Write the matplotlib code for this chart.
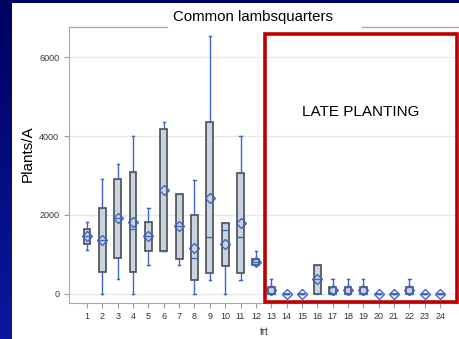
import matplotlib

matplotlib.use("Agg")
import matplotlib.pyplot as plt
import numpy as np
from matplotlib.patches import Rectangle

plt.rcParams["font.family"] = ["Liberation Sans", "DejaVu Sans"]

# box statistics per treatment (Plants/A)
trt = list(range(1, 25))
q1 = [1269, 541, 913, 541, 1091, 1091, 890, 356, 534, 712, 534, 720,
      0, 0, 0, 0, 0, 0, 0, 0, 0, 0, 0, 0]
med = [1455, 1362, 1911, 1641, 1455, 1091, 1720, 898, 1441, 1619, 1441, 814,
       0, 0, 0, 363, 0, 0, 0, 0, 0, 0, 0, 0]
q3 = [1641, 2173, 2901, 3078, 1818, 4169, 2534, 1992, 4356, 1805, 3076, 890,
      177, 0, 0, 717, 177, 177, 177, 0, 0, 177, 0, 0]
whislo = [1099, 0, 364, 0, 727, 1091, 720, 0, 356, 0, 356, 720,
          0, 0, 0, 0, 0, 0, 0, 0, 0, 0, 0, 0]
whishi = [1818, 2901, 3281, 4000, 2173, 4355, 2534, 2890, 6543, 1805, 3992, 1085,
          363, 0, 0, 717, 363, 363, 363, 0, 0, 363, 0, 0]
means = [1455, 1362, 1911, 1818, 1455, 2630, 1720, 1170, 2441, 1263, 1805, 814,
         91, 0, 0, 363, 91, 91, 91, 0, 0, 91, 0, 0]

yticks = [0, 2000, 4000, 6000]

W, H = 459, 339
fig = plt.figure(figsize=(W / 100, H / 100), dpi=100)

# navy gradient backdrop with the white slide panel
bg = fig.add_axes([0, 0, 1, 1])
grad = np.linspace(0, 1, 256).reshape(-1, 1)
cmap = matplotlib.colors.LinearSegmentedColormap.from_list("bg", ["#000060", "#0a18a0"])
bg.imshow(grad, aspect="auto", cmap=cmap, extent=[0, 1, 0, 1])
bg.add_patch(Rectangle((12 / W, 0), 1, 1 - 3 / H, facecolor="white", edgecolor="none"))
bg.set_xlim(0, 1)
bg.set_ylim(0, 1)
bg.axis("off")

ax = fig.add_axes([69 / W, 36 / H, 1 - 69 / W, (303 - 27) / H])

box_fill = "#c9d4e2"
blue = "#3f66c4"

stats = []
for i in range(len(trt)):
    stats.append(dict(med=med[i], q1=q1[i], q3=q3[i], whislo=whislo[i],
                      whishi=whishi[i], mean=means[i], fliers=[]))

ax.bxp(stats, positions=trt, widths=0.45, showmeans=True, patch_artist=True,
       showfliers=False,
       boxprops=dict(facecolor=box_fill, edgecolor="#4d4d4d", linewidth=1.2),
       medianprops=dict(color=blue, linewidth=1.0),
       whiskerprops=dict(color=blue, linewidth=1.0),
       capprops=dict(color=blue, linewidth=1.0),
       capwidths=0.15,
       meanprops=dict(marker="D", markersize=5.5, markerfacecolor="none",
                      markeredgecolor=blue, markeredgewidth=1.0))

ax.set_xlim(-0.17, 25.23)
ax.set_ylim(-236, 6770)
ax.set_yticks(yticks)
ax.set_yticklabels([str(v) for v in yticks])
ax.set_xticks(trt)
ax.set_xticklabels([str(t) for t in trt])
ax.tick_params(axis="both", labelsize=6.5, colors="#9a9a9a", labelcolor="#333333",
               length=3.5, width=0.8)
ax.tick_params(axis="x", pad=3)
ax.yaxis.grid(True, color="#e8e8e8", linewidth=1.0)
ax.set_axisbelow(True)
for side in ["top", "right"]:
    ax.spines[side].set_visible(False)
for side in ["left", "bottom"]:
    ax.spines[side].set_color("#aaaaaa")

# top frame line, broken by the title box
for x0, x1 in [(0, (167 - 69) / (W - 69)), ((362 - 69) / (W - 69), 1)]:
    ax.plot([x0, x1], [1, 1], transform=ax.transAxes, color="#aaaaaa",
            linewidth=1.0, clip_on=False)

fig.text(253 / W, 1 - 17 / H, "Common lambsquarters", ha="center", va="center",
         fontsize=10.8, color="black")
fig.text(28 / W, 1 - 154 / H, "Plants/A", rotation=90, ha="center", va="center",
         fontsize=11, color="black")
ax.set_xlabel("trt", fontsize=7, color="#333333", labelpad=4)

# late planting highlight
ax.add_patch(Rectangle((12.6, -210), 12.5, 6800, fill=False, edgecolor="#c00000",
                       linewidth=2.6, clip_on=False, zorder=5))
ax.text(18.85, 4610, "LATE PLANTING", ha="center", va="center", fontsize=11,
        color="black")

fig.savefig("out.png", dpi=100, facecolor="white")
